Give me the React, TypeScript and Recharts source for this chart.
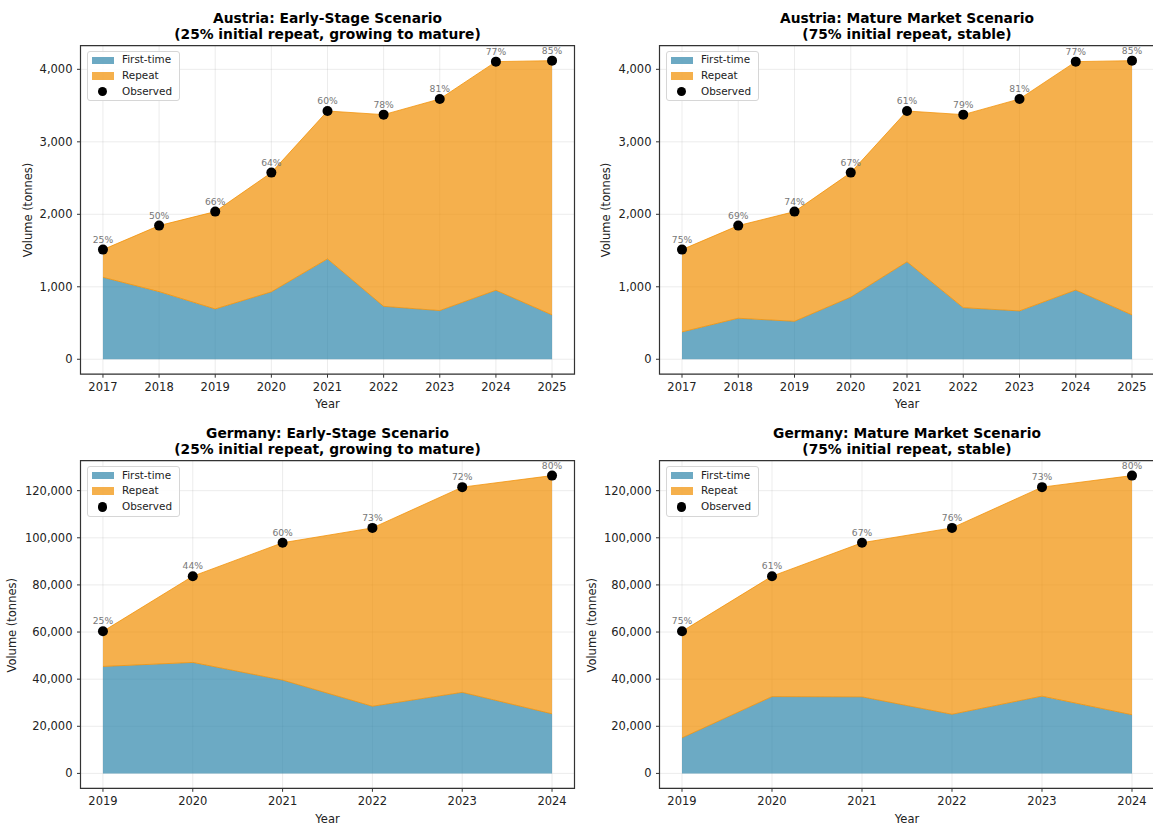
import React from 'react';
import {
  ComposedChart,
  Area,
  Line,
  XAxis,
  YAxis,
  CartesianGrid,
  LabelList,
  ReferenceArea,
  Legend,
} from 'recharts';

// ---------------- DATA ----------------
const austriaYears = [2017, 2018, 2019, 2020, 2021, 2022, 2023, 2024, 2025];
const austriaObserved = [1513, 1844, 2037, 2575, 3425, 3375, 3591, 4106, 4120];
const austriaEarlyFirstTime = [1131, 933, 694, 930, 1385, 730, 672, 952, 612];
const austriaEarlyRepeatPct = [25, 50, 66, 64, 60, 78, 81, 77, 85];
const austriaMatureFirstTime = [377, 566, 524, 858, 1345, 712, 667, 955, 612];
const austriaMatureRepeatPct = [75, 69, 74, 67, 61, 79, 81, 77, 85];

const germanyYears = [2019, 2020, 2021, 2022, 2023, 2024];
const germanyObserved = [60300, 83700, 97900, 104200, 121500, 126400];
const germanyEarlyFirstTime = [45400, 47100, 39600, 28500, 34400, 25300];
const germanyEarlyRepeatPct = [25, 44, 60, 73, 72, 80];
const germanyMatureFirstTime = [15100, 32600, 32500, 25100, 32800, 24900];
const germanyMatureRepeatPct = [75, 61, 67, 76, 73, 80];

const austriaYTicks = [0, 1000, 2000, 3000, 4000];
const germanyYTicks = [0, 20000, 40000, 60000, 80000, 100000, 120000];

const legendOrder = ['first', 'repeat', 'observed'];

const titles = {
  atEarly: ['Austria: Early-Stage Scenario', '(25% initial repeat, growing to mature)'],
  atMature: ['Austria: Mature Market Scenario', '(75% initial repeat, stable)'],
  deEarly: ['Germany: Early-Stage Scenario', '(25% initial repeat, growing to mature)'],
  deMature: ['Germany: Mature Market Scenario', '(75% initial repeat, stable)'],
};

// ---------------- STYLE ----------------
const FONT = '"DejaVu Sans", Verdana, sans-serif';
const BLUE = '#2E86AB';
const ORANGE = '#F18F01';
const SPINE = '#333333';
const TEXT = '#222222';

type Row = { year: number; first: number; repeat: number; observed: number; pct: string };

function buildRows(years: number[], observed: number[], first: number[], pct: number[]): Row[] {
  return years.map((y, i) => ({
    year: y,
    first: first[i],
    repeat: observed[i] - first[i],
    observed: observed[i],
    pct: `${pct[i]}%`,
  }));
}

const fmt = (v: number) => v.toLocaleString('en-US');

const LegendContent = (props: any) => {
  const payload = [...(props.payload || [])].sort(
    (a: any, b: any) => legendOrder.indexOf(a.dataKey) - legendOrder.indexOf(b.dataKey)
  );
  return (
    <div
      style={{
        border: '1px solid #d6d6d6',
        borderRadius: 3,
        background: 'rgba(255,255,255,0.85)',
        padding: '1px 7px 1px 2px',
        fontFamily: FONT,
        fontSize: 10.4,
        color: TEXT,
        lineHeight: '15.8px',
        boxSizing: 'border-box',
      }}
    >
      {payload.map((e: any) => {
        const isDot = e.dataKey === 'observed';
        const col = e.dataKey === 'first' ? BLUE : ORANGE;
        return (
          <div key={e.value} style={{ display: 'flex', alignItems: 'center', height: 15.6 }}>
            <div style={{ width: 23, marginLeft: 1, marginRight: 8, display: 'flex', justifyContent: 'center' }}>
              {isDot ? (
                <div style={{ width: 9.5, height: 9.5, borderRadius: '50%', background: '#000' }} />
              ) : (
                <div
                  style={{
                    width: 22,
                    height: 7.5,
                    background: col,
                    opacity: 0.7,
                    boxSizing: 'border-box',
                    border: `1px solid ${col}`,
                  }}
                />
              )}
            </div>
            <span>{e.value}</span>
          </div>
        );
      })}
    </div>
  );
};

type PanelProps = {
  left: number;
  top: number;
  marginLeft: number;
  marginTop: number;
  marginBottom: number;
  rows: Row[];
  years: number[];
  xDomain: [number, number];
  yDomain: [number, number];
  yTicks: number[];
};

const W = 576;
const H = 410;

function Panel(p: PanelProps) {
  return (
    <div style={{ position: 'absolute', left: p.left, top: p.top, width: W, height: H }}>
      <ComposedChart
        width={W}
        height={H}
        data={p.rows}
        margin={{ left: p.marginLeft, right: 1.5, top: p.marginTop, bottom: p.marginBottom }}
      >
        <XAxis
          dataKey="year"
          type="number"
          domain={p.xDomain}
          ticks={p.years}
          interval={0}
          axisLine={false}
          tickLine={{ stroke: SPINE, strokeWidth: 1 }}
          tickSize={3.5}
          tickMargin={5}
          height={30}
          tick={{ fill: TEXT, fontSize: 11.5, fontFamily: FONT }}
        />
        <YAxis
          type="number"
          domain={p.yDomain}
          ticks={p.yTicks}
          interval={0}
          tickFormatter={fmt}
          axisLine={false}
          tickLine={{ stroke: SPINE, strokeWidth: 1 }}
          tickSize={3.5}
          tickMargin={4.5}
          width={60}
          tick={{ fill: TEXT, fontSize: 11.5, fontFamily: FONT }}
        />
        <Area
          type="linear"
          dataKey="first"
          name="First-time"
          stackId="s"
          fill={BLUE}
          fillOpacity={0.7}
          stroke={ORANGE}
          strokeOpacity={0.75}
          strokeWidth={1}
          isAnimationActive={false}
          activeDot={false}
        />
        <Area
          type="linear"
          dataKey="repeat"
          name="Repeat"
          stackId="s"
          fill={ORANGE}
          fillOpacity={0.7}
          stroke={ORANGE}
          strokeOpacity={0.75}
          strokeWidth={1}
          isAnimationActive={false}
          activeDot={false}
        />
        <CartesianGrid stroke="#b0b0b0" strokeOpacity={0.3} strokeWidth={0.8} />
        <Line
          dataKey="observed"
          name="Observed"
          stroke="none"
          dot={{ r: 5, fill: '#000', stroke: '#000', strokeWidth: 0 }}
          activeDot={false}
          isAnimationActive={false}
        >
          <LabelList dataKey="pct" position="top" offset={7} fill="#777" fontSize={9.2} fontFamily={FONT} />
        </Line>
        <ReferenceArea
          x1={p.xDomain[0]}
          x2={p.xDomain[1]}
          y1={p.yDomain[0]}
          y2={p.yDomain[1]}
          fill="none"
          stroke={SPINE}
          strokeWidth={1.2}
          ifOverflow="visible"
        />
        <Legend
          layout="vertical"
          align="center"
          verticalAlign="middle"
          itemSorter={null as any}
          wrapperStyle={{ left: p.marginLeft + 60 + 6.5, top: p.marginTop + 4.8, width: 'auto', height: 'auto' }}
          content={<LegendContent />}
        />
      </ComposedChart>
    </div>
  );
}

const atEarlyRows = buildRows(austriaYears, austriaObserved, austriaEarlyFirstTime, austriaEarlyRepeatPct);
const atMatureRows = buildRows(austriaYears, austriaObserved, austriaMatureFirstTime, austriaMatureRepeatPct);
const deEarlyRows = buildRows(germanyYears, germanyObserved, germanyEarlyFirstTime, germanyEarlyRepeatPct);
const deMatureRows = buildRows(germanyYears, germanyObserved, germanyMatureFirstTime, germanyMatureRepeatPct);

const atXDomain: [number, number] = [2016.6, 2025.4];
const deXDomain: [number, number] = [2018.75, 2024.25];
const atYDomain: [number, number] = [-206, 4326];
const deYDomain: [number, number] = [-6320, 132720];

const ROW2 = 415.3;

export default function App() {
  const titleStyle = { fontFamily: FONT, fontSize: 13.8, fontWeight: 700, fill: '#000' } as const;
  const labelStyle = { fontFamily: FONT, fontSize: 11.5, fill: TEXT } as const;
  const T = (x: number, y: number, lines: string[]) => (
    <g>
      <text x={x} y={y} textAnchor="middle" style={titleStyle}>{lines[0]}</text>
      <text x={x} y={y + 15.5} textAnchor="middle" style={titleStyle}>{lines[1]}</text>
    </g>
  );
  return (
    <div style={{ position: 'relative', width: 1153, height: 825, overflow: 'hidden', background: '#fff' }}>
      <style>{'body{margin:0;}'}</style>
      <Panel left={0} top={0} marginLeft={20.5} marginTop={45.7} marginBottom={5.8} rows={atEarlyRows} years={austriaYears} xDomain={atXDomain} yDomain={atYDomain} yTicks={austriaYTicks} />
      <Panel left={580} top={0} marginLeft={19.5} marginTop={45.7} marginBottom={5.8} rows={atMatureRows} years={austriaYears} xDomain={atXDomain} yDomain={atYDomain} yTicks={austriaYTicks} />
      <Panel left={0} top={ROW2} marginLeft={20.5} marginTop={45.7} marginBottom={6.7} rows={deEarlyRows} years={germanyYears} xDomain={deXDomain} yDomain={deYDomain} yTicks={germanyYTicks} />
      <Panel left={580} top={ROW2} marginLeft={19.5} marginTop={45.7} marginBottom={6.7} rows={deMatureRows} years={germanyYears} xDomain={deXDomain} yDomain={deYDomain} yTicks={germanyYTicks} />
      <svg width={1153} height={825} style={{ position: 'absolute', left: 0, top: 0, pointerEvents: 'none' }}>
        {T(327.5, 23, titles.atEarly)}
        {T(907, 23, titles.atMature)}
        {T(327.5, 23 + ROW2, titles.deEarly)}
        {T(907, 23 + ROW2, titles.deMature)}
        <text x={327.5} y={408} textAnchor="middle" style={labelStyle}>Year</text>
        <text x={907} y={408} textAnchor="middle" style={labelStyle}>Year</text>
        <text x={327.5} y={408 + ROW2} textAnchor="middle" style={labelStyle}>Year</text>
        <text x={907} y={408 + ROW2} textAnchor="middle" style={labelStyle}>Year</text>
        <text transform="translate(32,210) rotate(-90)" textAnchor="middle" style={labelStyle}>Volume (tonnes)</text>
        <text transform="translate(610,210) rotate(-90)" textAnchor="middle" style={labelStyle}>Volume (tonnes)</text>
        <text transform={`translate(16,${210 + ROW2}) rotate(-90)`} textAnchor="middle" style={labelStyle}>Volume (tonnes)</text>
        <text transform={`translate(596,${210 + ROW2}) rotate(-90)`} textAnchor="middle" style={labelStyle}>Volume (tonnes)</text>
      </svg>
    </div>
  );
}
